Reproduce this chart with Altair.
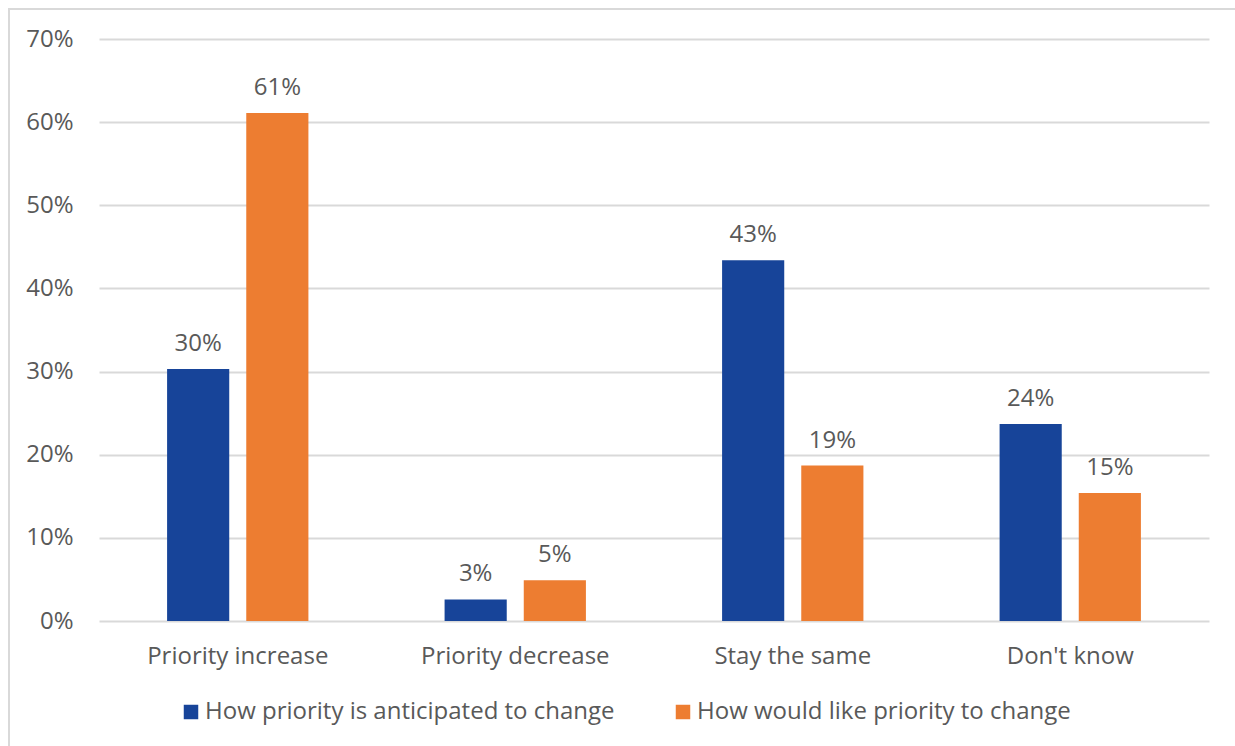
import altair as alt
import pandas as pd

# Survey responses: share of respondents per answer, two question variants
categories = ["Priority increase", "Priority decrease", "Stay the same", "Don't know"]
series = ["How priority is anticipated to change", "How would like priority to change"]
anticipated = [0.303, 0.026, 0.434, 0.237]
would_like = [0.611, 0.049, 0.187, 0.154]
series_colors = ["#174499", "#ED7D31"]
y_ticks = [0.0, 0.1, 0.2, 0.3, 0.4, 0.5, 0.6, 0.7]

rows = []
for i, cat in enumerate(categories):
    rows.append({"category": cat, "series": series[0], "value": anticipated[i]})
    rows.append({"category": cat, "series": series[1], "value": would_like[i]})
df = pd.DataFrame(rows)

FONT = "Open Sans"
TEXT = "#595959"
GRID = "#d9d9d9"

x_enc = alt.X(
    "category:N",
    sort=categories,
    scale=alt.Scale(paddingInner=0, paddingOuter=0),
    axis=alt.Axis(
        title=None, labelAngle=0, labelFont=FONT, labelFontSize=24,
        labelColor=TEXT, ticks=False, domain=False, grid=False,
        labelPadding=23, labelLimit=0,
    ),
)
xoff_enc = alt.XOffset(
    "series:N", sort=series,
    scale=alt.Scale(paddingInner=0.215, paddingOuter=0.86),
)
y_enc = alt.Y(
    "value:Q",
    scale=alt.Scale(domain=[0, 0.7], nice=False),
    axis=alt.Axis(
        values=y_ticks, format=".0%", title=None, ticks=False, domain=False,
        labelFont=FONT, labelFontSize=24, labelColor=TEXT, labelPadding=26,
        gridColor=GRID, gridWidth=2,
    ),
)
color_enc = alt.Color(
    "series:N",
    sort=series,
    scale=alt.Scale(domain=series, range=series_colors),
    legend=alt.Legend(
        title=None, orient="none", legendX=80, legendY=661,
        direction="horizontal", symbolType="square", symbolSize=210,
        symbolStrokeWidth=0, labelFont=FONT, labelFontSize=24,
        labelColor=TEXT, labelOffset=2, columnPadding=56, padding=0,
        labelLimit=0,
    ),
)

bars = alt.Chart(df).mark_bar().encode(
    x=x_enc, xOffset=xoff_enc, y=y_enc, color=color_enc
)

labels = alt.Chart(df).mark_text(
    baseline="alphabetic", dy=-18, font=FONT, fontSize=24, color=TEXT
).encode(
    x=x_enc, xOffset=xoff_enc, y=y_enc,
    text=alt.Text("value:Q", format=".0%"),
)

# Light outer frame around the whole figure
frame = alt.Chart(pd.DataFrame({"k": [0]})).mark_rect(
    filled=False, stroke=GRID, strokeWidth=2
).encode(
    x=alt.value(-90), x2=alt.value(1250),
    y=alt.value(-30), y2=alt.value(800),
)

chart = alt.layer(frame, bars, labels).properties(
    width=1110,
    height=582,
    autosize=alt.AutoSizeParams(type="none"),
    padding={"left": 99, "top": 39, "right": 26, "bottom": 125},
    background="white",
).configure_view(stroke=None)

chart.save("out.html", embed_options={"renderer": "svg", "actions": False})
